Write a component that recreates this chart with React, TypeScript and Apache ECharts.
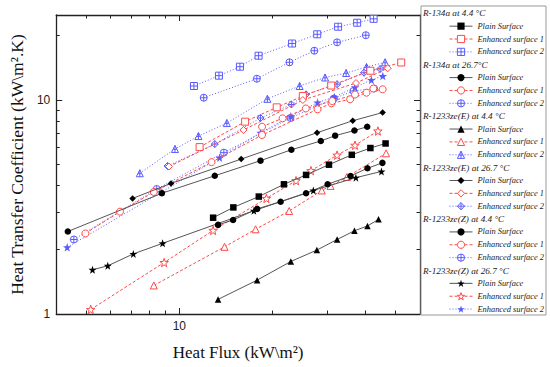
import React, { useEffect, useRef } from 'react';
import * as echarts from 'echarts';

// ---------- labels ----------
const groups = [
  'R-134a at 4.4 °C',
  'R-134a at 26.7°C',
  'R-1233ze(E) at 4.4 °C',
  'R-1233ze(E) at 26.7 °C',
  'R-1233ze(Z) at 4.4 °C',
  'R-1233ze(Z) at 26.7 °C',
];
const surfaces = ['Plain Surface', 'Enhanced surface 1', 'Enhanced surface 2'];
const xMajorTicks = [10];
const xMinorTicks = [5, 6, 7, 8, 9, 20, 30, 40, 50];
const xTickLabels = [10];
const yMajorTicks = [10];
const yMinorTicks = [2, 3, 4, 5, 6, 7, 8, 9, 20];
const yTickLabels = [1, 10];

// ---------- data: [heat flux kW/m2, HTC kW/m2K] ----------
const r134a44Plain = [[12.86, 2.82], [14.95, 3.15], [18.07, 3.54], [21.79, 4.04], [25.69, 4.47], [30.47, 4.99], [36.11, 5.55], [41.47, 5.97], [46.43, 6.27]];
const r134a44E1 = [[11.63, 6.03], [16.32, 7.93], [20.65, 9.25], [25.08, 10.45], [30.98, 11.7], [41.47, 13.72], [52.17, 14.99]];
const r134a44E2 = [[11.15, 11.64], [13.43, 13.01], [15.7, 14.33], [18.04, 16.13], [23.15, 18.39], [27.92, 20.31], [32.61, 22.03], [37.58, 23.0], [42.48, 23.99]];
const r134a267Plain = [[4.36, 2.43], [8.78, 3.67], [13.02, 4.43], [18.3, 5.21], [23.03, 5.86], [28.67, 6.44], [31.9, 6.82], [36.83, 7.21], [40.5, 7.51]];
const r134a267E1 = [[4.97, 2.38], [6.43, 3.01], [8.27, 3.72], [12.71, 5.13], [18.51, 6.87], [27.98, 9.06], [31.05, 9.66], [35.67, 10.09], [40.29, 10.83], [45.43, 11.23]];
const r134a267E2 = [[11.99, 10.26], [17.81, 12.59], [22.7, 15.02], [27.32, 17.02], [32.37, 18.63], [40.08, 20.11]];
const zeE44Plain = [[13.34, 1.17], [17.85, 1.44], [22.93, 1.76], [27.84, 1.99], [32.37, 2.23], [36.83, 2.45], [40.58, 2.58], [44.05, 2.77]];
const zeE44E1 = [[8.27, 1.36], [14.0, 2.06], [17.64, 2.49], [22.65, 3.03], [28.87, 3.78], [30.82, 3.97], [34.82, 4.37], [46.6, 5.64]];
const zeE44E2 = [[7.45, 4.55], [9.68, 5.91], [11.53, 6.79], [14.24, 7.81], [19.26, 10.14], [24.49, 11.64], [29.6, 12.76], [34.61, 13.39], [40.29, 14.28], [46.26, 15.02]];
const zeE267Plain = [[7.06, 3.47], [9.4, 4.08], [15.85, 5.3], [27.88, 7.04], [36.37, 8.01], [45.43, 8.75]];
const zeE267E1 = [[9.26, 4.89], [16.12, 7.25], [25.08, 10.01], [37.26, 12.02], [47.18, 14.09]];
const zeE267E2 = [[9.16, 4.92], [13.02, 6.23], [18.3, 8.25], [23.03, 9.54], [25.69, 10.64], [32.37, 11.87], [39.56, 13.43], [44.6, 13.98]];
const zeZ44Plain = [[13.34, 2.61], [14.92, 2.75], [17.85, 3.1], [21.26, 3.35], [25.69, 3.67], [30.16, 4.04], [35.77, 4.42], [40.58, 4.8], [45.36, 5.09]];
const zeZ44E1 = [[18.51, 7.51], [21.57, 8.22], [25.64, 9.14], [31.21, 9.9], [36.98, 10.62], [42.39, 11.33]];
const zeZ44E2 = [[4.56, 2.23], [8.45, 3.84], [13.93, 5.68], [22.87, 8.25], [31.6, 10.17], [36.56, 11.03], [42.61, 11.33]];
const zeZ267Plain = [[5.24, 1.61], [5.87, 1.68], [7.1, 1.91], [8.83, 2.14], [17.42, 3.04], [27.12, 3.78], [37.23, 4.34], [45.03, 4.64]];
const zeZ267E1 = [[5.17, 1.05], [8.93, 1.74], [12.86, 2.46], [19.12, 3.47], [23.84, 4.2], [26.65, 4.68], [32.37, 5.53], [36.98, 6.15], [43.85, 7.17]];
const zeZ267E2 = [[4.34, 2.05], [8.78, 3.72], [13.5, 5.38], [18.3, 7.04], [22.93, 8.4], [27.98, 9.74], [31.71, 10.34], [36.98, 11.48], [41.78, 12.42], [45.49, 12.97]];

const seriesData = [
  [r134a44Plain, r134a44E1, r134a44E2],
  [r134a267Plain, r134a267E1, r134a267E2],
  [zeE44Plain, zeE44E1, zeE44E2],
  [zeE267Plain, zeE267E1, zeE267E2],
  [zeZ44Plain, zeZ44E1, zeZ44E2],
  [zeZ267Plain, zeZ267E1, zeZ267E2],
];

// ---------- symbols ----------
const STAR = 'path://M5,0 L6.18,3.38 L9.76,3.45 L6.9,5.62 L7.94,9.05 L5,7 L2.06,9.05 L3.1,5.62 L0.24,3.45 L3.82,3.38 Z';
const SQ_PLUS = 'path://M0,0 L10,0 L10,10 L0,10 Z M5,0 L5,10 M0,5 L10,5';
const CI_PLUS = 'path://M10,5 A5,5 0 1 1 0,5 A5,5 0 1 1 10,5 Z M5,0 L5,10 M0,5 L10,5';
const TRI_PLUS = 'path://M5,0 L10,9 L0,9 Z M5,0 L5,9 M2.5,5 L7.5,5';
const DIA_PLUS = 'path://M5,0 L10,5 L5,10 L0,5 Z M5,0 L5,10 M0,5 L10,5';

const shapes = ['square', 'circle', 'triangle', 'diamond', 'circle', 'star'];
const baseSymbol: Record<string, string> = { square: 'rect', circle: 'circle', triangle: 'triangle', diamond: 'diamond', star: STAR };
const plusSymbol: Record<string, string> = { square: SQ_PLUS, circle: CI_PLUS, triangle: TRI_PLUS, diamond: DIA_PLUS, star: STAR };

const RED = '#ff4a4a';
const BLUE = '#5a5aff';
const LINE_GRAY = '#555';

const SERIF = "'Liberation Serif', 'Times New Roman', serif";
const SANS = "'Liberation Sans', Arial, sans-serif";

// legend layout
const LEG_BOX = { x: 421, y: 6, w: 125, h: 309 };
const LEG_ROW0 = 13.3;
const LEG_PITCH = 12.86;

export default function App() {
  const ref = useRef<HTMLDivElement>(null);

  useEffect(() => {
    document.body.style.margin = '0';
    if (!ref.current) return;
    const chart = echarts.init(ref.current, null, { renderer: 'svg' });

    const legendText = { fontFamily: SERIF, fontStyle: 'italic', fontSize: 8.4, lineHeight: 9, color: '#222' };
    const headerText = { fontFamily: SERIF, fontStyle: 'italic', fontSize: 9.2, lineHeight: 9, color: '#222' };
    const series: any[] = [];
    const legends: any[] = [];
    let row = 0;
    const rowTop = (r: number) => LEG_ROW0 + r * LEG_PITCH - 4.5;

    groups.forEach((g, gi) => {
      series.push({ type: 'scatter', name: g, data: [], xAxisIndex: 0, yAxisIndex: 0 });
      legends.push({
        orient: 'horizontal', left: 417, top: rowTop(row), padding: 0, itemWidth: 1, itemHeight: 9,
        selectedMode: false, z: 10, textStyle: headerText,
        data: [{ name: g, icon: 'rect', itemStyle: { opacity: 0 } }],
      });
      row++;
      surfaces.forEach((s, si) => {
        const shape = shapes[gi];
        let symbol = baseSymbol[shape];
        let itemStyle: any;
        let lineStyle: any;
        let size = shape === 'star' ? 8 : 6.5;
        if (si === 0) {
          itemStyle = { color: '#000', borderColor: '#000', borderWidth: 0 };
          lineStyle = { color: LINE_GRAY, width: 1, type: 'solid' };
        } else if (si === 1) {
          itemStyle = { color: '#fff', borderColor: RED, borderWidth: 1 };
          lineStyle = { color: RED, width: 1, type: [3, 2] };
          size = shape === 'star' ? 8.5 : 7;
        } else {
          symbol = plusSymbol[shape];
          itemStyle = shape === 'star'
            ? { color: BLUE, borderColor: BLUE, borderWidth: 0 }
            : { color: '#fff', borderColor: BLUE, borderWidth: 1 };
          lineStyle = { color: BLUE, width: 1, type: [1, 2] };
          size = shape === 'star' ? 8.5 : 7;
        }
        const name = g + '|' + s;
        series.push({
          type: 'line',
          name,
          data: seriesData[gi][si],
          xAxisIndex: 0,
          yAxisIndex: 0,
          symbol,
          symbolSize: size,
          showAllSymbol: true,
          itemStyle,
          lineStyle,
          z: si === 0 ? 4 : si === 1 ? 3 : 2,
          emphasis: { disabled: true },
        });
        legends.push({
          orient: 'horizontal', left: 449, top: rowTop(row), padding: 0, itemWidth: 23, itemHeight: 9,
          selectedMode: false, z: 10, textStyle: legendText,
          formatter: (n: string) => n.split('|')[1],
          data: [{ name, itemStyle: { ...itemStyle }, lineStyle: { ...lineStyle } }],
        });
        row++;
      });
    });

    const axisLine = { show: true, lineStyle: { color: '#222', width: 1.3 } };
    const xCommon = { type: 'log', logBase: 10, min: 4, max: 60, splitLine: { show: false } };
    const yCommon = { type: 'log', logBase: 10, min: 1, max: 25, splitLine: { show: false } };
    const noLabel = { show: false };
    const tickStyle = { color: '#222' };

    const option: any = {
      animation: false,
      grid: { left: 48, right: 130, top: 15, bottom: 53, containLabel: false },
      graphic: [
        {
          type: 'rect', z: 1,
          shape: { x: LEG_BOX.x, y: LEG_BOX.y, width: LEG_BOX.w, height: LEG_BOX.h },
          style: { fill: '#fff', stroke: '#999', lineWidth: 1 },
        },
      ],
      xAxis: [
        {
          ...xCommon,
          position: 'bottom',
          axisLine,
          axisTick: { show: true, inside: true, length: 6, customValues: xMajorTicks, lineStyle: tickStyle },
          axisLabel: { show: true, customValues: xTickLabels, formatter: (v: number) => String(Math.round(v)), fontFamily: SANS, fontSize: 12, color: '#222', margin: 6 },
          name: 'Heat Flux (kW\\m\u00B2)',
          nameLocation: 'middle',
          nameGap: 30,
          nameTextStyle: { fontFamily: SERIF, fontSize: 17, color: '#111' },
        },
        { ...xCommon, position: 'bottom', axisLine: { show: false }, axisTick: { show: true, inside: true, length: 3.5, customValues: xMinorTicks, lineStyle: tickStyle }, axisLabel: noLabel },
        { ...xCommon, position: 'top', axisLine, axisTick: { show: true, inside: true, length: 6, customValues: xMajorTicks, lineStyle: tickStyle }, axisLabel: noLabel },
        { ...xCommon, position: 'top', axisLine: { show: false }, axisTick: { show: true, inside: true, length: 3.5, customValues: xMinorTicks, lineStyle: tickStyle }, axisLabel: noLabel },
      ],
      yAxis: [
        {
          ...yCommon,
          position: 'left',
          axisLine,
          axisTick: { show: true, inside: true, length: 6, customValues: yMajorTicks, lineStyle: tickStyle },
          axisLabel: { show: true, customValues: yTickLabels, formatter: (v: number) => String(Math.round(v)), fontFamily: SANS, fontSize: 12, color: '#222', margin: 6 },
          name: 'Heat Transfer Coefficient (kW\\m\u00B2.K)',
          nameLocation: 'middle',
          nameGap: 24,
          nameRotate: 90,
          nameTextStyle: { fontFamily: SERIF, fontSize: 17.5, color: '#111' },
        },
        { ...yCommon, position: 'left', axisLine: { show: false }, axisTick: { show: true, inside: true, length: 3.5, customValues: yMinorTicks, lineStyle: tickStyle }, axisLabel: noLabel },
        { ...yCommon, position: 'right', axisLine, axisTick: { show: true, inside: true, length: 6, customValues: yMajorTicks, lineStyle: tickStyle }, axisLabel: noLabel },
        { ...yCommon, position: 'right', axisLine: { show: false }, axisTick: { show: true, inside: true, length: 3.5, customValues: yMinorTicks, lineStyle: tickStyle }, axisLabel: noLabel },
      ],
      legend: legends,
      series,
    };

    chart.setOption(option);
    return () => chart.dispose();
  }, []);

  return <div ref={ref} style={{ width: 550, height: 367 }} />;
}
